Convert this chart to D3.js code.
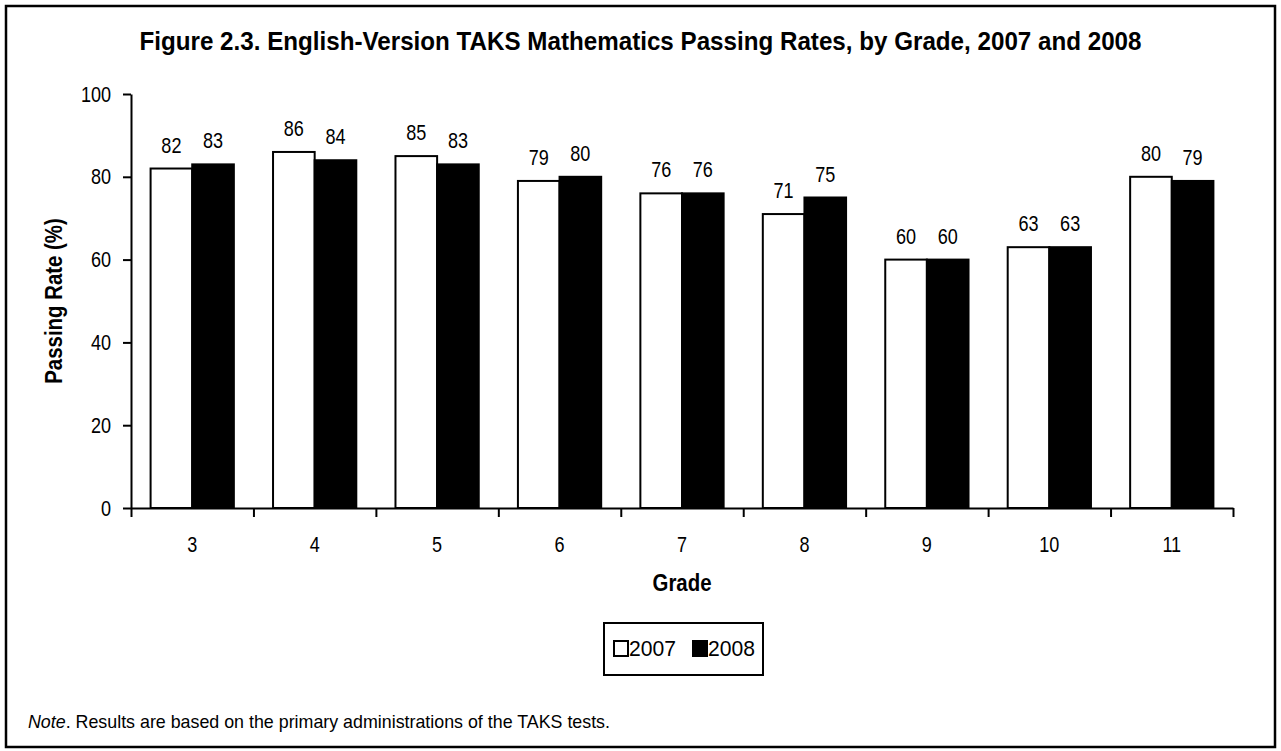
<!DOCTYPE html>
<html>
<head>
<meta charset="utf-8">
<script src="https://cdn.jsdelivr.net/npm/d3@7"></script>
<style>
    body { margin: 0; background: #fff; }
    svg text { font-family: "Liberation Sans Narrow", "Arial Narrow", "Liberation Sans", sans-serif; fill: #000; }
</style>
</head>
<body>
<div id="chart"></div>
<script>
var grades = ["3", "4", "5", "6", "7", "8", "9", "10", "11"];
var years = ["2007", "2008"];
var rates2007 = [82, 86, 85, 79, 76, 71, 60, 63, 80];
var rates2008 = [83, 84, 83, 80, 76, 75, 60, 63, 79];
var yTicks = [0, 20, 40, 60, 80, 100];

var data = grades.map(function (g, i) {
    return { grade: g, "2007": rates2007[i], "2008": rates2008[i] };
});

var W = 1281, H = 751,
    margin = { top: 94, right: 48, bottom: 243, left: 131 },
    width = W - margin.left - margin.right,
    height = H - margin.top - margin.bottom;

// no narrow face installed, so squeeze glyphs to look like Arial Narrow
function squeeze(sel, k, fixed) {
    sel.each(function () {
        var w = fixed || this.getComputedTextLength() * k;
        d3.select(this).attr("textLength", w).attr("lengthAdjust", "spacingAndGlyphs");
    });
}

var svg = d3.select("#chart").append("svg")
    .attr("width", W)
    .attr("height", H);

// outer frame
svg.append("rect")
    .attr("x", 6).attr("y", 6)
    .attr("width", W - 12).attr("height", H - 10)
    .attr("fill", "none")
    .attr("stroke", "#000")
    .attr("stroke-width", 2.5);

var title = svg.append("text")
    .attr("x", W / 2)
    .attr("y", 50)
    .attr("text-anchor", "middle")
    .style("font-weight", "bold")
    .style("font-size", "26px")
    .text("Figure 2.3. English-Version TAKS Mathematics Passing Rates, by Grade, 2007 and 2008");
squeeze(title, 1, 1002);

var g = svg.append("g")
    .attr("transform", "translate(" + margin.left + "," + margin.top + ")");

var x0 = d3.scaleBand().domain(grades).range([0, width]).paddingInner(0.32).paddingOuter(0.16);
var x1 = d3.scaleBand().domain(years).range([0, x0.bandwidth()]);
var y = d3.scaleLinear().domain([0, 100]).range([height, 0]);

var fill = { "2007": "#fff", "2008": "#000" };

var groups = g.selectAll(".grade")
    .data(data)
    .enter().append("g")
    .attr("class", "grade")
    .attr("transform", function (d) { return "translate(" + x0(d.grade) + ",0)"; });

groups.selectAll("rect")
    .data(function (d) { return years.map(function (k) { return { key: k, value: d[k] }; }); })
    .enter().append("rect")
    .attr("x", function (d) { return x1(d.key); })
    .attr("y", function (d) { return y(d.value); })
    .attr("width", x1.bandwidth())
    .attr("height", function (d) { return height - y(d.value); })
    .attr("fill", function (d) { return fill[d.key]; })
    .attr("stroke", "#000")
    .attr("stroke-width", 2);

var vals = groups.selectAll(".val")
    .data(function (d) { return years.map(function (k) { return { key: k, value: d[k] }; }); })
    .enter().append("text")
    .attr("class", "val")
    .attr("x", function (d) { return x1(d.key) + x1.bandwidth() / 2; })
    .attr("y", function (d) { return y(d.value) - 16; })
    .attr("text-anchor", "middle")
    .style("font-size", "22px")
    .text(function (d) { return d.value; });
squeeze(vals, 0.82);

// y axis
var yAxis = g.append("g")
    .call(d3.axisLeft(y).tickValues(yTicks).tickSize(8).tickPadding(12).tickSizeOuter(0));
yAxis.selectAll("text").style("font-size", "22px");
squeeze(yAxis.selectAll("text"), 0.82);

// x axis, ticks sit on the band edges
var edges = grades.map(function (d) { return x0(d) - x0.step() * x0.paddingInner() / 2; });
edges.push(width);
var xEdge = d3.scaleLinear().domain([0, width]).range([0, width]);
g.append("g")
    .attr("transform", "translate(0," + height + ")")
    .call(d3.axisBottom(xEdge).tickValues(edges).tickSize(9).tickFormat("").tickSizeOuter(0));

var xLabels = g.append("g")
    .attr("transform", "translate(0," + height + ")")
    .selectAll("text")
    .data(grades)
    .enter().append("text")
    .attr("x", function (d) { return x0(d) + x0.bandwidth() / 2; })
    .attr("y", 44)
    .attr("text-anchor", "middle")
    .style("font-size", "22px")
    .text(function (d) { return d; });
squeeze(xLabels, 0.82);

g.selectAll(".domain, .tick line")
    .attr("stroke", "#000")
    .attr("stroke-width", 2);

var xTitle = svg.append("text")
    .attr("x", margin.left + width / 2)
    .attr("y", 591)
    .attr("text-anchor", "middle")
    .style("font-weight", "bold")
    .style("font-size", "24px")
    .text("Grade");
squeeze(xTitle, 0.85);

var yTitle = svg.append("text")
    .attr("transform", "translate(62," + (margin.top + height / 2) + ") rotate(-90)")
    .attr("text-anchor", "middle")
    .style("font-weight", "bold")
    .style("font-size", "24px")
    .text("Passing Rate (%)");
squeeze(yTitle, 0.85);

// legend
var legend = svg.append("g").attr("transform", "translate(604,623)");
legend.append("rect")
    .attr("width", 159).attr("height", 52)
    .attr("fill", "#fff").attr("stroke", "#000").attr("stroke-width", 2);

var item = legend.selectAll(".item")
    .data(years)
    .enter().append("g")
    .attr("class", "item")
    .attr("transform", function (d, i) { return "translate(" + (9 + i * 79) + ",0)"; });
item.append("rect")
    .attr("x", 1).attr("y", 18)
    .attr("width", 14).attr("height", 15)
    .attr("fill", function (d) { return fill[d]; })
    .attr("stroke", "#000").attr("stroke-width", 2);
var legText = item.append("text")
    .attr("x", 16).attr("y", 33)
    .style("font-size", "22px")
    .text(function (d) { return d; });
squeeze(legText, 1, 47);

var note = svg.append("text")
    .attr("x", 28).attr("y", 728)
    .style("font-size", "19px");
note.append("tspan").style("font-style", "italic").text("Note");
note.append("tspan").text(".  Results are based on the primary administrations of the TAKS tests.");
squeeze(note, 1, 582);
</script>
</body>
</html>
